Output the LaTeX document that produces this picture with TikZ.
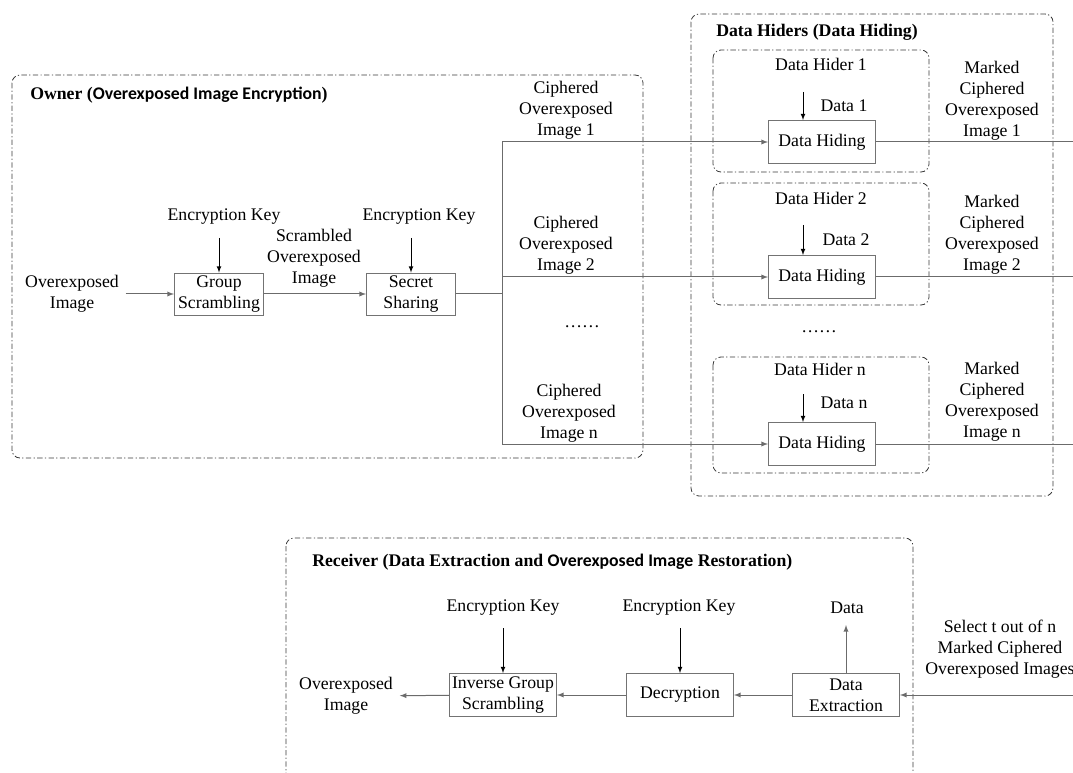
\documentclass[tikz,border=0pt]{standalone}
\usepackage{fontspec}
\setmainfont{Liberation Serif}
\newfontfamily\calib{Carlito}
\usetikzlibrary{arrows}
\usetikzlibrary{positioning}
\usetikzlibrary{calc}
\definecolor{linegray}{gray}{0.42}
\definecolor{boxgray}{gray}{0.45}
\definecolor{framegray}{gray}{0.22}
\newcommand{\figfont}{\fontsize{13.3}{15.75}\selectfont}
\tikzstyle{block}=[rectangle,draw=boxgray,line width=0.7pt,fill=white,align=center,inner sep=0pt,minimum height=31.5pt]
\tikzstyle{smallblock}=[block,minimum width=66.75pt]
\tikzstyle{wideblock}=[block,minimum width=80.25pt,minimum height=32.25pt]
\tikzstyle{txt}=[align=center,inner sep=0pt]
\tikzstyle{title}=[anchor=west,inner sep=0pt,font=\figfont\bfseries]
\tikzstyle{frame}=[draw=framegray,line width=0.6pt,rounded corners=6pt,dash pattern=on 4pt off 1.8pt on 0.9pt off 1.8pt]
\tikzstyle{flow}=[draw=linegray,line width=0.75pt]
\tikzstyle{flowarrow}=[flow,-latex]
\tikzstyle{keyarrow}=[draw=black,line width=0.6pt,-latex]

\begin{document}
\begin{tikzpicture}[x=0.75pt,y=-0.75pt,font=\figfont]
    \useasboundingbox (0,0) rectangle (1073,773);

    % frames
    \draw[frame] (12,75) rectangle (643,458);
    \draw[frame] (691,14) rectangle (1053,496);
    \foreach \top/\bot in {50/172, 183/305, 357/473}
        \draw[frame] (713,\top) rectangle (929,\bot);
    \draw[frame] (286,538) rectangle (913,800);

    \node[title] (owner) at (30,95) {Owner ({\calib Overexposed Image Encryption})};
    \node[title] (hiders) at (716,32) {Data Hiders (Data Hiding)};
    \node[title] (receiver) at (312,562) {Receiver (Data Extraction and {\calib Overexposed Image} Restoration)};

    % boxes
    \foreach \pos/\name/\lbl in {{(219,294)/gs/Group\\Scrambling}, {(411,294)/ss/Secret\\Sharing}}
        \node[smallblock] (\name) at \pos {\lbl};

    \foreach \pos/\name/\lbl in {{(822,142)/dh1/Data Hiding}, {(822,277)/dh2/Data Hiding}, {(822,444)/dhn/Data Hiding},
                                 {(503,695)/igs/Inverse Group\\Scrambling}, {(680,695)/dec/Decryption}, {(846,695)/dex/Data\\Extraction}}
        \node[wideblock] (\name) at \pos {\lbl};

    % texts
    \foreach \pos/\name/\lbl in {{(72,294)/oin/Overexposed\\Image}, {(224,217)/key1/Encryption Key}, {(314,258)/sci/Scrambled\\Overexposed\\Image},
                                 {(419,217)/key2/Encryption Key}, {(566,110)/ci1/Ciphered\\Overexposed\\Image 1}, {(566,245)/ci2/Ciphered\\Overexposed\\Image 2},
                                 {(569,413)/cin/Ciphered\\Overexposed\\Image n}, {(582,327)/dots1/……}, {(819,332)/dots2/……},
                                 {(821,64)/hd1/Data Hider 1}, {(821,198)/hd2/Data Hider 2}, {(820,369)/hdn/Data Hider n},
                                 {(844,106)/d1/Data 1}, {(846,240)/d2/Data 2}, {(844,403)/dn/Data n},
                                 {(992,101)/mc1/Marked\\Ciphered\\Overexposed\\Image 1}, {(992,235)/mc2/Marked\\Ciphered\\Overexposed\\Image 2},
                                 {(992,402)/mcn/Marked\\Ciphered\\Overexposed\\Image n},
                                 {(346,696)/oout/Overexposed\\Image}, {(503,608)/key3/Encryption Key}, {(679,608)/key4/Encryption Key},
                                 {(847,608)/dt/Data}, {(1000,649)/sel/Select t out of n\\Marked Ciphered\\Overexposed Images}}
        \node[txt] (\name) at \pos {\lbl};

    % connector ends
    \foreach \pos/\name in {{(219,238)/k1}, {(411,238)/k2}, {(503,628)/k3}, {(680,628)/k4}, {(846,625)/dup},
                            {(502,294)/br}, {(502,142)/b1}, {(502,277)/b2}, {(502,444)/bn},
                            {(1073,142)/o1}, {(1073,277)/o2}, {(1073,444)/on}, {(1073,695)/rin},
                            {(803,92)/h1}, {(803,225)/h2}, {(803,394)/hn}}
        \path \pos coordinate (\name);

    % owner
    \draw[flowarrow,shorten <=5pt] (oin) -- (gs);
    \draw[flowarrow] (gs) -- (ss);
    \draw[flow] (ss) -- (br);
    \draw[flow] (b1) -- (bn);
    \foreach \k/\b in {k1/gs, k2/ss}
        \draw[keyarrow] (\k) -- (\k |- \b.north);

    % data hiders
    \foreach \b/\h/\o/\n in {b1/dh1/o1/h1, b2/dh2/o2/h2, bn/dhn/on/hn} {
        \draw[flowarrow] (\b) -- (\h);
        \draw[flow] (\h) -- (\o);
        \draw[keyarrow] (\n) -- (\n |- \h.north);
    }

    % receiver
    \draw[flowarrow] (rin) -- (dex);
    \draw[flowarrow] (dex) -- (dec);
    \draw[flowarrow] (dec) -- (igs);
    \draw[flowarrow,shorten >=5pt] (igs) -- (oout);
    \draw[flowarrow] (dex) -- (dup);
    \foreach \k/\b in {k3/igs, k4/dec}
        \draw[keyarrow] (\k) -- (\k |- \b.north);

\end{tikzpicture}
\end{document}
